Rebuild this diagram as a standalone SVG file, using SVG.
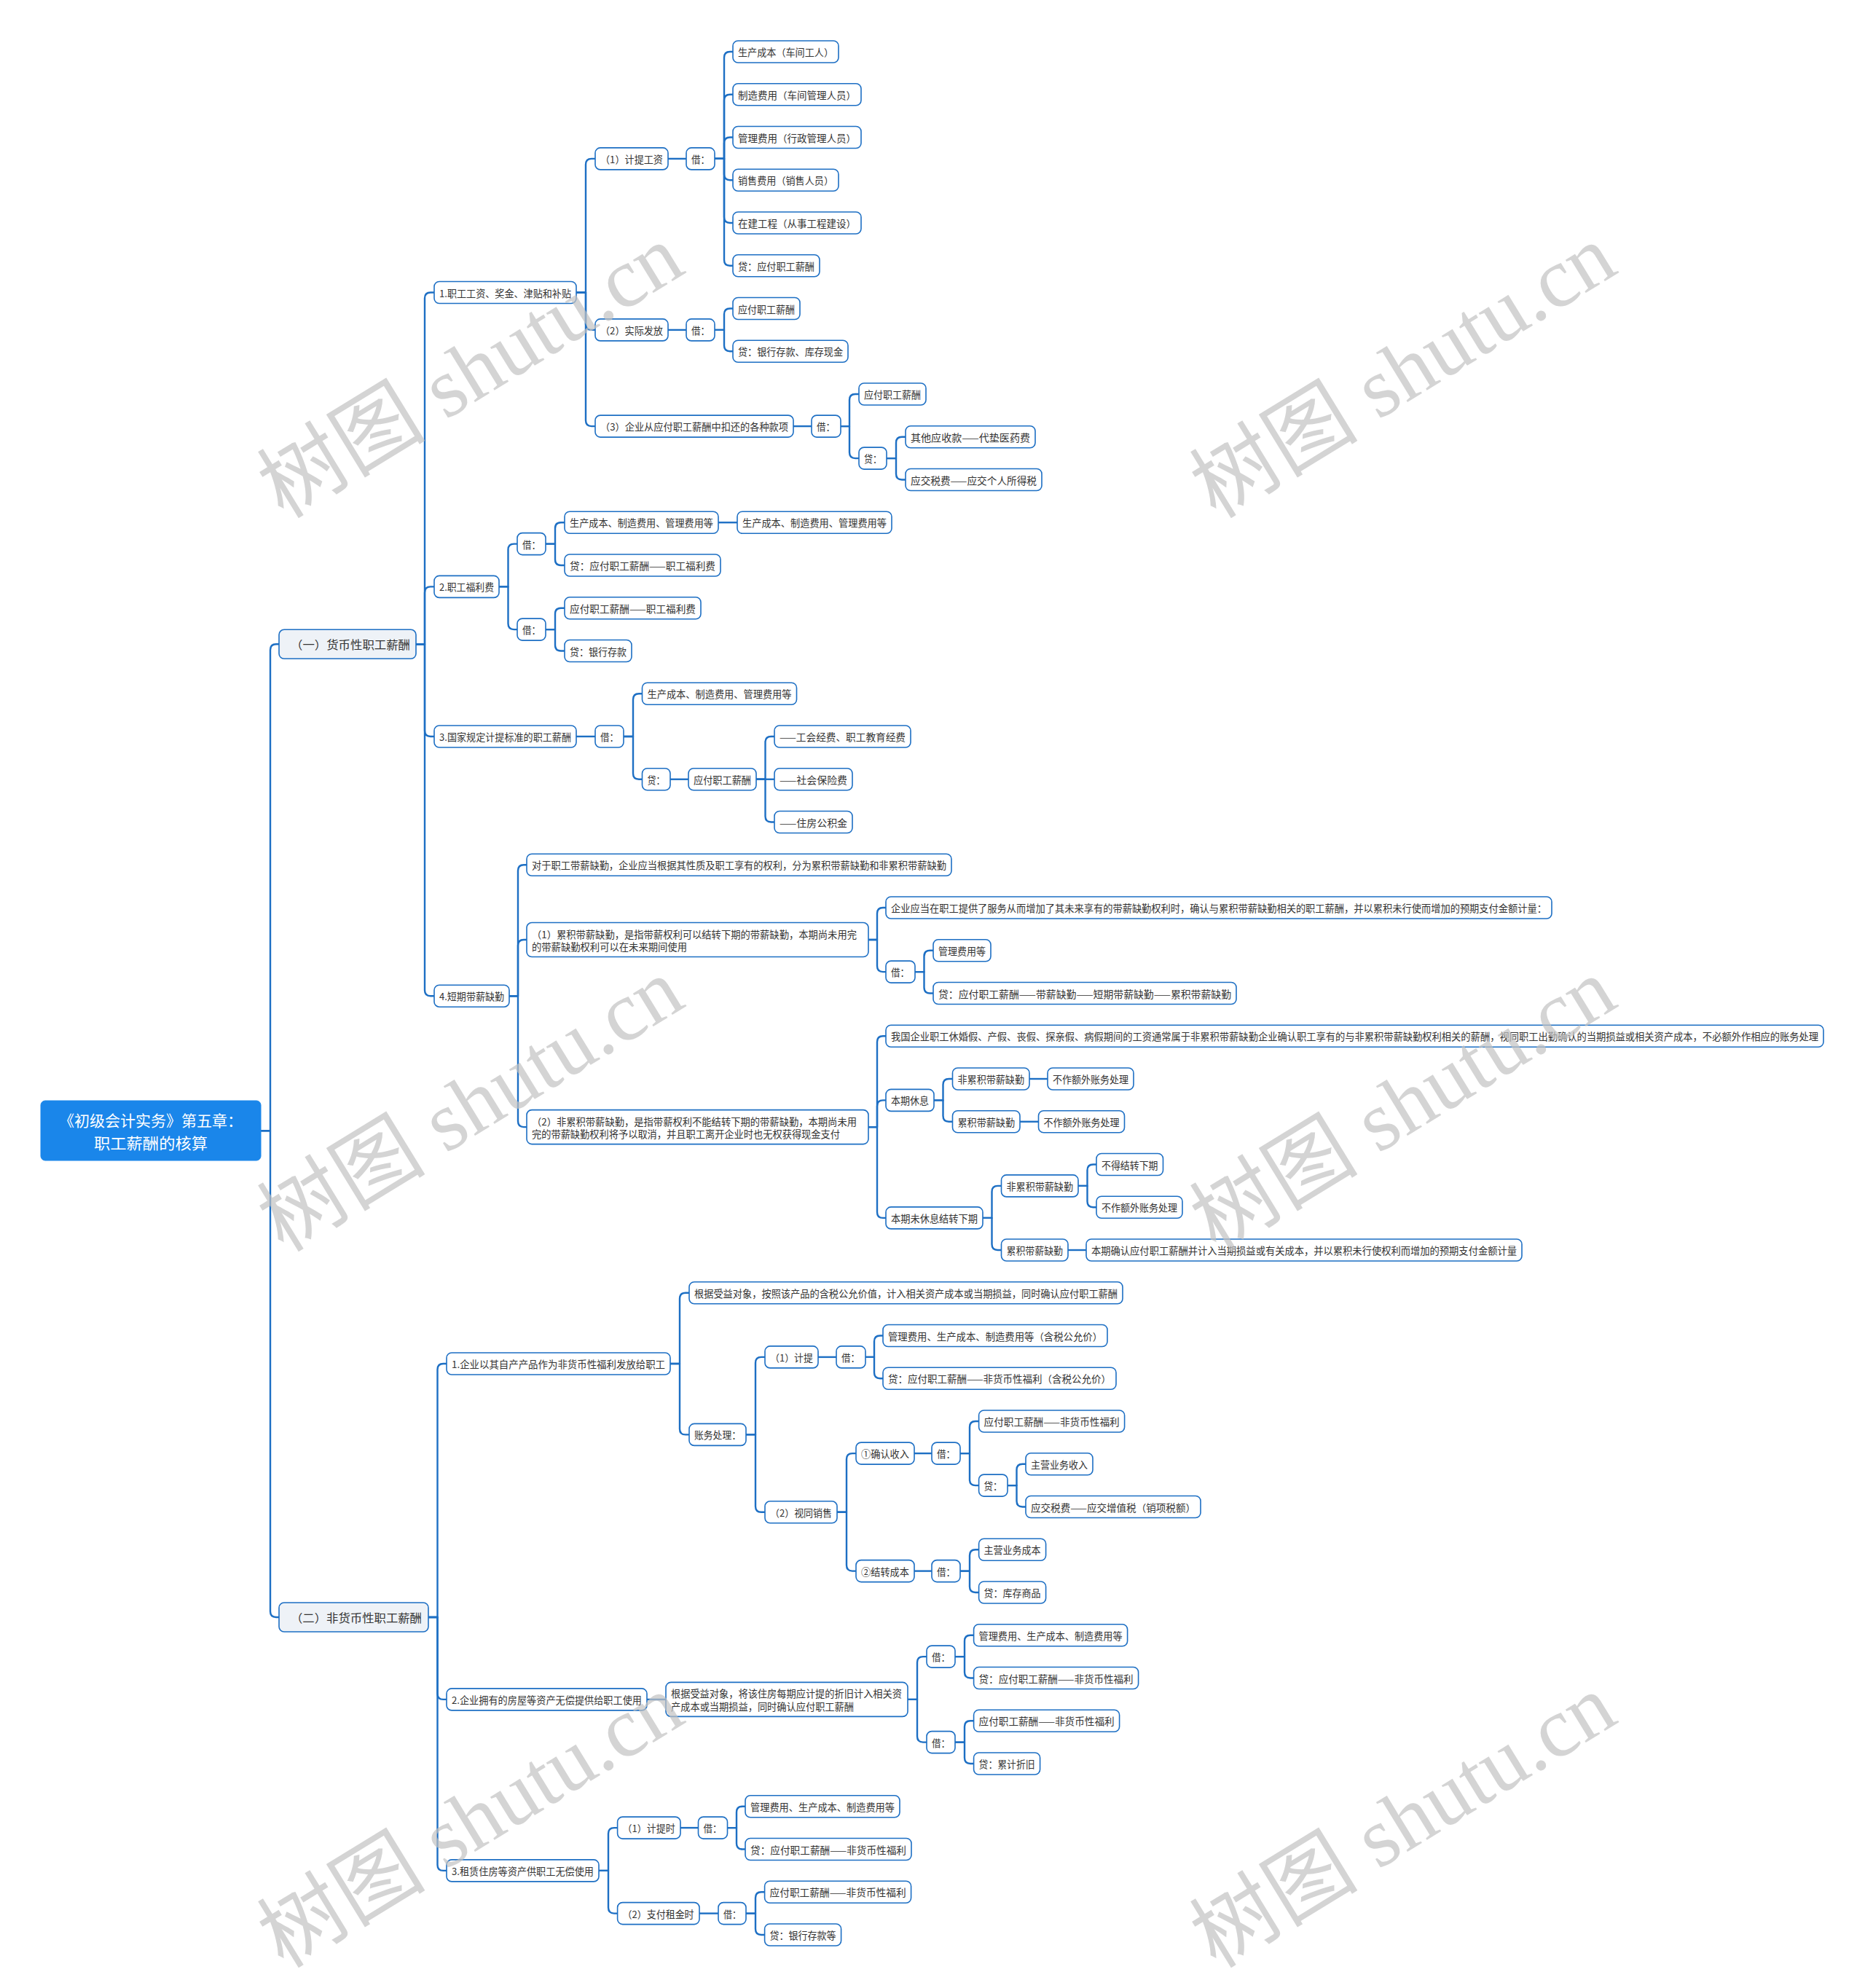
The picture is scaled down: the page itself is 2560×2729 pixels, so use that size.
<svg xmlns="http://www.w3.org/2000/svg" width="2560" height="2729" viewBox="0 0 2560 2729">
<style>
.bg{fill:#ffffff}
.c path{fill:none;stroke:#1d6fc4;stroke-width:2.4;stroke-linejoin:round}
.n rect{fill:#ffffff;stroke:#1d6fc4;stroke-width:1.6}
.n text{font-family:"Noto Sans CJK SC","Noto Sans",sans-serif;font-size:13.5px;fill:#333333;dominant-baseline:central}
.l1 rect{fill:#eef2f7;stroke:#1d6fc4;stroke-width:1.6}
.l1 text{font-family:"Noto Sans CJK SC","Noto Sans",sans-serif;font-size:15.5px;fill:#333333;dominant-baseline:central}
.root rect{fill:#1a86ea;stroke:#1a86ea}
.root text{font-family:"Noto Sans CJK SC","Noto Sans",sans-serif;font-size:21px;fill:#ffffff;dominant-baseline:central;text-anchor:middle}
.wm text{font-family:"Liberation Serif","Noto Sans CJK SC",serif;font-size:116px;fill:#c2c2c2;opacity:0.7;text-anchor:middle;dominant-baseline:central}
</style>
<rect class="bg" x="0" y="0" width="2560" height="2729"/>
<g id="connectors" class="c">
<path d="M358,1552.2 H371 V892.3 Q371,884.3 379,884.3 H383"/>
<path d="M358,1552.2 H371 V2212 Q371,2220 379,2220 H383"/>
<path d="M571,884.3 H583 V409.5 Q583,401.5 591,401.5 H596"/>
<path d="M571,884.3 H583 V813.4 Q583,805.4 591,805.4 H596"/>
<path d="M571,884.3 H583 V1003 Q583,1011 591,1011 H596"/>
<path d="M571,884.3 H583 V1359.2 Q583,1367.2 591,1367.2 H596"/>
<path d="M791,401.5 H804 V225.9 Q804,217.9 812,217.9 H817"/>
<path d="M791,401.5 H804 V444.9 Q804,452.9 812,452.9 H817"/>
<path d="M791,401.5 H804 V577.1 Q804,585.1 812,585.1 H817"/>
<path d="M917,217.9 H942"/>
<path d="M981,217.9 H994 V79 Q994,71 1002,71 H1006"/>
<path d="M981,217.9 H994 V137.75 Q994,129.75 1002,129.75 H1006"/>
<path d="M981,217.9 H994 V196.5 Q994,188.5 1002,188.5 H1006"/>
<path d="M981,217.9 H994 V239.25 Q994,247.25 1002,247.25 H1006"/>
<path d="M981,217.9 H994 V298 Q994,306 1002,306 H1006"/>
<path d="M981,217.9 H994 V356.75 Q994,364.75 1002,364.75 H1006"/>
<path d="M917,452.9 H942"/>
<path d="M981,452.9 H994 V431.5 Q994,423.5 1002,423.5 H1006"/>
<path d="M981,452.9 H994 V474.25 Q994,482.25 1002,482.25 H1006"/>
<path d="M1089,585.1 H1114"/>
<path d="M1154,585.1 H1166 V549 Q1166,541 1174,541 H1179"/>
<path d="M1154,585.1 H1166 V621.1 Q1166,629.1 1174,629.1 H1179"/>
<path d="M1217,629.1 H1230 V607.75 Q1230,599.75 1238,599.75 H1243"/>
<path d="M1217,629.1 H1230 V650.5 Q1230,658.5 1238,658.5 H1243"/>
<path d="M685,805.4 H697.5 V754.6 Q697.5,746.6 705.5,746.6 H710"/>
<path d="M685,805.4 H697.5 V856.1 Q697.5,864.1 705.5,864.1 H710"/>
<path d="M749,746.6 H762 V725.25 Q762,717.25 770,717.25 H775"/>
<path d="M749,746.6 H762 V768 Q762,776 770,776 H775"/>
<path d="M986,717.25 H1012"/>
<path d="M749,864.1 H762 V842.75 Q762,834.75 770,834.75 H775"/>
<path d="M749,864.1 H762 V885.5 Q762,893.5 770,893.5 H775"/>
<path d="M791,1011 H817"/>
<path d="M856,1011 H869 V960.25 Q869,952.25 877,952.25 H881.5"/>
<path d="M856,1011 H869 V1061.75 Q869,1069.75 877,1069.75 H881.5"/>
<path d="M920,1069.75 H945"/>
<path d="M1038,1069.75 H1050.5 V1019 Q1050.5,1011 1058.5,1011 H1063"/>
<path d="M1038,1069.75 H1063"/>
<path d="M1038,1069.75 H1050.5 V1120.5 Q1050.5,1128.5 1058.5,1128.5 H1063"/>
<path d="M699,1367.2 H711 V1195.25 Q711,1187.25 719,1187.25 H723"/>
<path d="M699,1367.2 H711 V1298.06 Q711,1290.06 719,1290.06 H723"/>
<path d="M699,1367.2 H711 V1539.1 Q711,1547.1 719,1547.1 H723"/>
<path d="M1192,1290.06 H1204 V1254 Q1204,1246 1212,1246 H1216"/>
<path d="M1192,1290.06 H1204 V1326.1 Q1204,1334.1 1212,1334.1 H1216"/>
<path d="M1256,1334.1 H1268.5 V1312.75 Q1268.5,1304.75 1276.5,1304.75 H1281"/>
<path d="M1256,1334.1 H1268.5 V1355.5 Q1268.5,1363.5 1276.5,1363.5 H1281"/>
<path d="M1192,1547.1 H1204 V1430.25 Q1204,1422.25 1212,1422.25 H1216"/>
<path d="M1192,1547.1 H1204 V1518.4 Q1204,1510.4 1212,1510.4 H1216"/>
<path d="M1192,1547.1 H1204 V1663.9 Q1204,1671.9 1212,1671.9 H1216"/>
<path d="M1282,1510.4 H1294.5 V1489 Q1294.5,1481 1302.5,1481 H1307.5"/>
<path d="M1282,1510.4 H1294.5 V1531.75 Q1294.5,1539.75 1302.5,1539.75 H1307.5"/>
<path d="M1413,1481 H1438"/>
<path d="M1400,1539.75 H1425.5"/>
<path d="M1349,1671.9 H1361.5 V1635.9 Q1361.5,1627.9 1369.5,1627.9 H1374.5"/>
<path d="M1349,1671.9 H1361.5 V1708 Q1361.5,1716 1369.5,1716 H1374.5"/>
<path d="M1480,1627.9 H1492.5 V1606.5 Q1492.5,1598.5 1500.5,1598.5 H1505"/>
<path d="M1480,1627.9 H1492.5 V1649.25 Q1492.5,1657.25 1500.5,1657.25 H1505"/>
<path d="M1466,1716 H1491"/>
<path d="M588,2220 H600.5 V1880 Q600.5,1872 608.5,1872 H613"/>
<path d="M588,2220 H600.5 V2324.9 Q600.5,2332.9 608.5,2332.9 H613"/>
<path d="M588,2220 H600.5 V2559.9 Q600.5,2567.9 608.5,2567.9 H613"/>
<path d="M920,1872 H933 V1782.75 Q933,1774.75 941,1774.75 H946"/>
<path d="M920,1872 H933 V1961.4 Q933,1969.4 941,1969.4 H946"/>
<path d="M1024,1969.4 H1037 V1870.9 Q1037,1862.9 1045,1862.9 H1050"/>
<path d="M1024,1969.4 H1037 V2067.8 Q1037,2075.8 1045,2075.8 H1050"/>
<path d="M1123,1862.9 H1148"/>
<path d="M1188,1862.9 H1200 V1841.5 Q1200,1833.5 1208,1833.5 H1212"/>
<path d="M1188,1862.9 H1200 V1884.25 Q1200,1892.25 1208,1892.25 H1212"/>
<path d="M1149,2075.8 H1162 V2003.1 Q1162,1995.1 1170,1995.1 H1175"/>
<path d="M1149,2075.8 H1162 V2148.6 Q1162,2156.6 1170,2156.6 H1175"/>
<path d="M1255,1995.1 H1279"/>
<path d="M1318,1995.1 H1331 V1959 Q1331,1951 1339,1951 H1343.6"/>
<path d="M1318,1995.1 H1331 V2031.1 Q1331,2039.1 1339,2039.1 H1343.6"/>
<path d="M1383,2039.1 H1395.5 V2017.75 Q1395.5,2009.75 1403.5,2009.75 H1408"/>
<path d="M1383,2039.1 H1395.5 V2060.5 Q1395.5,2068.5 1403.5,2068.5 H1408"/>
<path d="M1255,2156.6 H1279"/>
<path d="M1318,2156.6 H1331 V2135.25 Q1331,2127.25 1339,2127.25 H1343.6"/>
<path d="M1318,2156.6 H1331 V2178 Q1331,2186 1339,2186 H1343.6"/>
<path d="M888,2332.9 H914"/>
<path d="M1246,2332.9 H1259 V2282.1 Q1259,2274.1 1267,2274.1 H1272"/>
<path d="M1246,2332.9 H1259 V2383.6 Q1259,2391.6 1267,2391.6 H1272"/>
<path d="M1311,2274.1 H1324 V2252.75 Q1324,2244.75 1332,2244.75 H1336.6"/>
<path d="M1311,2274.1 H1324 V2295.5 Q1324,2303.5 1332,2303.5 H1336.6"/>
<path d="M1311,2391.6 H1324 V2370.25 Q1324,2362.25 1332,2362.25 H1336.6"/>
<path d="M1311,2391.6 H1324 V2413 Q1324,2421 1332,2421 H1336.6"/>
<path d="M822,2567.9 H835 V2517.1 Q835,2509.1 843,2509.1 H847.6"/>
<path d="M822,2567.9 H835 V2618.6 Q835,2626.6 843,2626.6 H847.6"/>
<path d="M934,2509.1 H958.5"/>
<path d="M998.5,2509.1 H1011 V2487.75 Q1011,2479.75 1019,2479.75 H1023"/>
<path d="M998.5,2509.1 H1011 V2530.5 Q1011,2538.5 1019,2538.5 H1023"/>
<path d="M960,2626.6 H986"/>
<path d="M1024,2626.6 H1037 V2605.25 Q1037,2597.25 1045,2597.25 H1049.6"/>
<path d="M1024,2626.6 H1037 V2648 Q1037,2656 1045,2656 H1049.6"/>
</g>
<g id="root" class="root"><rect x="56" y="1511" width="302" height="82" rx="6"/><text x="207" y="1537" textLength="252" lengthAdjust="spacingAndGlyphs">《初级会计实务》第五章：</text><text x="207" y="1568" textLength="156" lengthAdjust="spacingAndGlyphs">职工薪酬的核算</text></g>
<g id="l1a" class="l1"><rect x="383" y="864.3" width="188" height="40" rx="7"/><text x="399" y="884.3" textLength="164" lengthAdjust="spacingAndGlyphs">（一）货币性职工薪酬</text></g>
<g id="l1b" class="l1"><rect x="383" y="2200" width="205" height="40" rx="7"/><text x="399" y="2220" textLength="180" lengthAdjust="spacingAndGlyphs">（二）非货币性职工薪酬</text></g>
<g id="n1" class="n"><rect x="596" y="386.5" width="195" height="30" rx="7"/><text x="603" y="401.5" textLength="181" lengthAdjust="spacingAndGlyphs">1.职工工资、奖金、津贴和补贴</text></g>
<g id="n2" class="n"><rect x="817" y="202.9" width="100" height="30" rx="7"/><text x="824" y="217.9" textLength="86" lengthAdjust="spacingAndGlyphs">（1）计提工资</text></g>
<g id="n3" class="n"><rect x="942" y="202.9" width="39" height="30" rx="7"/><text x="949" y="217.9" textLength="25" lengthAdjust="spacingAndGlyphs">借：</text></g>
<g id="n4" class="n"><rect x="1006" y="56" width="145" height="30" rx="7"/><text x="1013" y="71" textLength="131" lengthAdjust="spacingAndGlyphs">生产成本（车间工人）</text></g>
<g id="n5" class="n"><rect x="1006" y="114.75" width="176" height="30" rx="7"/><text x="1013" y="129.75" textLength="162" lengthAdjust="spacingAndGlyphs">制造费用（车间管理人员）</text></g>
<g id="n6" class="n"><rect x="1006" y="173.5" width="176" height="30" rx="7"/><text x="1013" y="188.5" textLength="162" lengthAdjust="spacingAndGlyphs">管理费用（行政管理人员）</text></g>
<g id="n7" class="n"><rect x="1006" y="232.25" width="145" height="30" rx="7"/><text x="1013" y="247.25" textLength="131" lengthAdjust="spacingAndGlyphs">销售费用（销售人员）</text></g>
<g id="n8" class="n"><rect x="1006" y="291" width="176" height="30" rx="7"/><text x="1013" y="306" textLength="162" lengthAdjust="spacingAndGlyphs">在建工程（从事工程建设）</text></g>
<g id="n9" class="n"><rect x="1006" y="349.75" width="119" height="30" rx="7"/><text x="1013" y="364.75" textLength="105" lengthAdjust="spacingAndGlyphs">贷：应付职工薪酬</text></g>
<g id="n10" class="n"><rect x="817" y="437.9" width="100" height="30" rx="7"/><text x="824" y="452.9" textLength="86" lengthAdjust="spacingAndGlyphs">（2）实际发放</text></g>
<g id="n11" class="n"><rect x="942" y="437.9" width="39" height="30" rx="7"/><text x="949" y="452.9" textLength="25" lengthAdjust="spacingAndGlyphs">借：</text></g>
<g id="n12" class="n"><rect x="1006" y="408.5" width="92" height="30" rx="7"/><text x="1013" y="423.5" textLength="78" lengthAdjust="spacingAndGlyphs">应付职工薪酬</text></g>
<g id="n13" class="n"><rect x="1006" y="467.25" width="158" height="30" rx="7"/><text x="1013" y="482.25" textLength="144" lengthAdjust="spacingAndGlyphs">贷：银行存款、库存现金</text></g>
<g id="n14" class="n"><rect x="817" y="570.1" width="272" height="30" rx="7"/><text x="824" y="585.1" textLength="258" lengthAdjust="spacingAndGlyphs">（3）企业从应付职工薪酬中扣还的各种款项</text></g>
<g id="n15" class="n"><rect x="1114" y="570.1" width="40" height="30" rx="7"/><text x="1121" y="585.1" textLength="25" lengthAdjust="spacingAndGlyphs">借：</text></g>
<g id="n16" class="n"><rect x="1179" y="526" width="92" height="30" rx="7"/><text x="1186" y="541" textLength="78" lengthAdjust="spacingAndGlyphs">应付职工薪酬</text></g>
<g id="n17" class="n"><rect x="1179" y="614.1" width="38" height="30" rx="7"/><text x="1186" y="629.1" textLength="24" lengthAdjust="spacingAndGlyphs">贷：</text></g>
<g id="n18" class="n"><rect x="1243" y="584.75" width="178" height="30" rx="7"/><text x="1250" y="599.75" textLength="164" lengthAdjust="spacingAndGlyphs">其他应收款——代垫医药费</text></g>
<g id="n19" class="n"><rect x="1243" y="643.5" width="187" height="30" rx="7"/><text x="1250" y="658.5" textLength="173" lengthAdjust="spacingAndGlyphs">应交税费——应交个人所得税</text></g>
<g id="n20" class="n"><rect x="596" y="790.4" width="89" height="30" rx="7"/><text x="603" y="805.4" textLength="75" lengthAdjust="spacingAndGlyphs">2.职工福利费</text></g>
<g id="n21" class="n"><rect x="710" y="731.6" width="39" height="30" rx="7"/><text x="717" y="746.6" textLength="25" lengthAdjust="spacingAndGlyphs">借：</text></g>
<g id="n22" class="n"><rect x="775" y="702.25" width="211" height="30" rx="7"/><text x="782" y="717.25" textLength="197" lengthAdjust="spacingAndGlyphs">生产成本、制造费用、管理费用等</text></g>
<g id="n23" class="n"><rect x="1012" y="702.25" width="212" height="30" rx="7"/><text x="1019" y="717.25" textLength="198" lengthAdjust="spacingAndGlyphs">生产成本、制造费用、管理费用等</text></g>
<g id="n24" class="n"><rect x="775" y="761" width="214" height="30" rx="7"/><text x="782" y="776" textLength="200" lengthAdjust="spacingAndGlyphs">贷：应付职工薪酬——职工福利费</text></g>
<g id="n25" class="n"><rect x="710" y="849.1" width="39" height="30" rx="7"/><text x="717" y="864.1" textLength="25" lengthAdjust="spacingAndGlyphs">借：</text></g>
<g id="n26" class="n"><rect x="775" y="819.75" width="187" height="30" rx="7"/><text x="782" y="834.75" textLength="173" lengthAdjust="spacingAndGlyphs">应付职工薪酬——职工福利费</text></g>
<g id="n27" class="n"><rect x="775" y="878.5" width="92" height="30" rx="7"/><text x="782" y="893.5" textLength="78" lengthAdjust="spacingAndGlyphs">贷：银行存款</text></g>
<g id="n28" class="n"><rect x="596" y="996" width="195" height="30" rx="7"/><text x="603" y="1011" textLength="181" lengthAdjust="spacingAndGlyphs">3.国家规定计提标准的职工薪酬</text></g>
<g id="n29" class="n"><rect x="817" y="996" width="39" height="30" rx="7"/><text x="824" y="1011" textLength="25" lengthAdjust="spacingAndGlyphs">借：</text></g>
<g id="n30" class="n"><rect x="881.5" y="937.25" width="212" height="30" rx="7"/><text x="888.5" y="952.25" textLength="198" lengthAdjust="spacingAndGlyphs">生产成本、制造费用、管理费用等</text></g>
<g id="n31" class="n"><rect x="881.5" y="1054.75" width="38.5" height="30" rx="7"/><text x="888.5" y="1069.75" textLength="24" lengthAdjust="spacingAndGlyphs">贷：</text></g>
<g id="n32" class="n"><rect x="945" y="1054.75" width="93" height="30" rx="7"/><text x="952" y="1069.75" textLength="79" lengthAdjust="spacingAndGlyphs">应付职工薪酬</text></g>
<g id="n33" class="n"><rect x="1063" y="996" width="187" height="30" rx="7"/><text x="1070" y="1011" textLength="173" lengthAdjust="spacingAndGlyphs">——工会经费、职工教育经费</text></g>
<g id="n34" class="n"><rect x="1063" y="1054.75" width="107" height="30" rx="7"/><text x="1070" y="1069.75" textLength="93" lengthAdjust="spacingAndGlyphs">——社会保险费</text></g>
<g id="n35" class="n"><rect x="1063" y="1113.5" width="107" height="30" rx="7"/><text x="1070" y="1128.5" textLength="93" lengthAdjust="spacingAndGlyphs">——住房公积金</text></g>
<g id="n36" class="n"><rect x="596" y="1352.2" width="103" height="30" rx="7"/><text x="603" y="1367.2" textLength="89" lengthAdjust="spacingAndGlyphs">4.短期带薪缺勤</text></g>
<g id="n37" class="n"><rect x="723" y="1172.25" width="583" height="30" rx="7"/><text x="730" y="1187.25" textLength="569" lengthAdjust="spacingAndGlyphs">对于职工带薪缺勤，企业应当根据其性质及职工享有的权利，分为累积带薪缺勤和非累积带薪缺勤</text></g>
<g id="n38" class="n"><rect x="723" y="1266.56" width="469" height="47" rx="7"/><text x="730" y="1281.56" textLength="446" lengthAdjust="spacingAndGlyphs">（1）累积带薪缺勤，是指带薪权利可以结转下期的带薪缺勤，本期尚未用完</text><text x="730" y="1299.06" textLength="213" lengthAdjust="spacingAndGlyphs">的带薪缺勤权利可以在未来期间使用</text></g>
<g id="n39" class="n"><rect x="1216" y="1231" width="914" height="30" rx="7"/><text x="1223" y="1246" textLength="900" lengthAdjust="spacingAndGlyphs">企业应当在职工提供了服务从而增加了其未来享有的带薪缺勤权利时，确认与累积带薪缺勤相关的职工薪酬，并以累积未行使而增加的预期支付金额计量：</text></g>
<g id="n40" class="n"><rect x="1216" y="1319.1" width="40" height="30" rx="7"/><text x="1223" y="1334.1" textLength="25" lengthAdjust="spacingAndGlyphs">借：</text></g>
<g id="n41" class="n"><rect x="1281" y="1289.75" width="79" height="30" rx="7"/><text x="1288" y="1304.75" textLength="65" lengthAdjust="spacingAndGlyphs">管理费用等</text></g>
<g id="n42" class="n"><rect x="1281" y="1348.5" width="416" height="30" rx="7"/><text x="1288" y="1363.5" textLength="402" lengthAdjust="spacingAndGlyphs">贷：应付职工薪酬——带薪缺勤——短期带薪缺勤——累积带薪缺勤</text></g>
<g id="n43" class="n"><rect x="723" y="1523.6" width="469" height="47" rx="7"/><text x="730" y="1538.6" textLength="446" lengthAdjust="spacingAndGlyphs">（2）非累积带薪缺勤，是指带薪权利不能结转下期的带薪缺勤，本期尚未用</text><text x="730" y="1556.1" textLength="423" lengthAdjust="spacingAndGlyphs">完的带薪缺勤权利将予以取消，并且职工离开企业时也无权获得现金支付</text></g>
<g id="n44" class="n"><rect x="1216" y="1407.25" width="1287" height="30" rx="7"/><text x="1223" y="1422.25" textLength="1273" lengthAdjust="spacingAndGlyphs">我国企业职工休婚假、产假、丧假、探亲假、病假期间的工资通常属于非累积带薪缺勤企业确认职工享有的与非累积带薪缺勤权利相关的薪酬，视同职工出勤确认的当期损益或相关资产成本，不必额外作相应的账务处理</text></g>
<g id="n45" class="n"><rect x="1216" y="1495.4" width="66" height="30" rx="7"/><text x="1223" y="1510.4" textLength="52" lengthAdjust="spacingAndGlyphs">本期休息</text></g>
<g id="n46" class="n"><rect x="1307.5" y="1466" width="105.5" height="30" rx="7"/><text x="1314.5" y="1481" textLength="91.5" lengthAdjust="spacingAndGlyphs">非累积带薪缺勤</text></g>
<g id="n47" class="n"><rect x="1438" y="1466" width="118" height="30" rx="7"/><text x="1445" y="1481" textLength="104" lengthAdjust="spacingAndGlyphs">不作额外账务处理</text></g>
<g id="n48" class="n"><rect x="1307.5" y="1524.75" width="92.5" height="30" rx="7"/><text x="1314.5" y="1539.75" textLength="78.5" lengthAdjust="spacingAndGlyphs">累积带薪缺勤</text></g>
<g id="n49" class="n"><rect x="1425.5" y="1524.75" width="118" height="30" rx="7"/><text x="1432.5" y="1539.75" textLength="104" lengthAdjust="spacingAndGlyphs">不作额外账务处理</text></g>
<g id="n50" class="n"><rect x="1216" y="1656.9" width="133" height="30" rx="7"/><text x="1223" y="1671.9" textLength="119" lengthAdjust="spacingAndGlyphs">本期未休息结转下期</text></g>
<g id="n51" class="n"><rect x="1374.5" y="1612.9" width="105.5" height="30" rx="7"/><text x="1381.5" y="1627.9" textLength="91.5" lengthAdjust="spacingAndGlyphs">非累积带薪缺勤</text></g>
<g id="n52" class="n"><rect x="1505" y="1583.5" width="91.5" height="30" rx="7"/><text x="1512" y="1598.5" textLength="77.5" lengthAdjust="spacingAndGlyphs">不得结转下期</text></g>
<g id="n53" class="n"><rect x="1505" y="1642.25" width="118" height="30" rx="7"/><text x="1512" y="1657.25" textLength="104" lengthAdjust="spacingAndGlyphs">不作额外账务处理</text></g>
<g id="n54" class="n"><rect x="1374.5" y="1701" width="91.5" height="30" rx="7"/><text x="1381.5" y="1716" textLength="77.5" lengthAdjust="spacingAndGlyphs">累积带薪缺勤</text></g>
<g id="n55" class="n"><rect x="1491" y="1701" width="598" height="30" rx="7"/><text x="1498" y="1716" textLength="584" lengthAdjust="spacingAndGlyphs">本期确认应付职工薪酬并计入当期损益或有关成本，并以累积未行使权利而增加的预期支付金额计量</text></g>
<g id="n56" class="n"><rect x="613" y="1857" width="307" height="30" rx="7"/><text x="620" y="1872" textLength="293" lengthAdjust="spacingAndGlyphs">1.企业以其自产产品作为非货币性福利发放给职工</text></g>
<g id="n57" class="n"><rect x="946" y="1759.75" width="595" height="30" rx="7"/><text x="953" y="1774.75" textLength="581" lengthAdjust="spacingAndGlyphs">根据受益对象，按照该产品的含税公允价值，计入相关资产成本或当期损益，同时确认应付职工薪酬</text></g>
<g id="n58" class="n"><rect x="946" y="1954.4" width="78" height="30" rx="7"/><text x="953" y="1969.4" textLength="64" lengthAdjust="spacingAndGlyphs">账务处理：</text></g>
<g id="n59" class="n"><rect x="1050" y="1847.9" width="73" height="30" rx="7"/><text x="1057" y="1862.9" textLength="59" lengthAdjust="spacingAndGlyphs">（1）计提</text></g>
<g id="n60" class="n"><rect x="1148" y="1847.9" width="40" height="30" rx="7"/><text x="1155" y="1862.9" textLength="25" lengthAdjust="spacingAndGlyphs">借：</text></g>
<g id="n61" class="n"><rect x="1212" y="1818.5" width="308" height="30" rx="7"/><text x="1219" y="1833.5" textLength="294" lengthAdjust="spacingAndGlyphs">管理费用、生产成本、制造费用等（含税公允价）</text></g>
<g id="n62" class="n"><rect x="1212" y="1877.25" width="320" height="30" rx="7"/><text x="1219" y="1892.25" textLength="306" lengthAdjust="spacingAndGlyphs">贷：应付职工薪酬——非货币性福利（含税公允价）</text></g>
<g id="n63" class="n"><rect x="1050" y="2060.8" width="99" height="30" rx="7"/><text x="1057" y="2075.8" textLength="85" lengthAdjust="spacingAndGlyphs">（2）视同销售</text></g>
<g id="n64" class="n"><rect x="1175" y="1980.1" width="80" height="30" rx="7"/><text x="1182" y="1995.1" textLength="66" lengthAdjust="spacingAndGlyphs">①确认收入</text></g>
<g id="n65" class="n"><rect x="1279" y="1980.1" width="39" height="30" rx="7"/><text x="1286" y="1995.1" textLength="25" lengthAdjust="spacingAndGlyphs">借：</text></g>
<g id="n66" class="n"><rect x="1343.6" y="1936" width="200" height="30" rx="7"/><text x="1350.6" y="1951" textLength="186" lengthAdjust="spacingAndGlyphs">应付职工薪酬——非货币性福利</text></g>
<g id="n67" class="n"><rect x="1343.6" y="2024.1" width="39.4" height="30" rx="7"/><text x="1350.6" y="2039.1" textLength="25" lengthAdjust="spacingAndGlyphs">贷：</text></g>
<g id="n68" class="n"><rect x="1408" y="1994.75" width="92" height="30" rx="7"/><text x="1415" y="2009.75" textLength="78" lengthAdjust="spacingAndGlyphs">主营业务收入</text></g>
<g id="n69" class="n"><rect x="1408" y="2053.5" width="240" height="30" rx="7"/><text x="1415" y="2068.5" textLength="226" lengthAdjust="spacingAndGlyphs">应交税费——应交增值税（销项税额）</text></g>
<g id="n70" class="n"><rect x="1175" y="2141.6" width="80" height="30" rx="7"/><text x="1182" y="2156.6" textLength="66" lengthAdjust="spacingAndGlyphs">②结转成本</text></g>
<g id="n71" class="n"><rect x="1279" y="2141.6" width="39" height="30" rx="7"/><text x="1286" y="2156.6" textLength="25" lengthAdjust="spacingAndGlyphs">借：</text></g>
<g id="n72" class="n"><rect x="1343.6" y="2112.25" width="92" height="30" rx="7"/><text x="1350.6" y="2127.25" textLength="78" lengthAdjust="spacingAndGlyphs">主营业务成本</text></g>
<g id="n73" class="n"><rect x="1343.6" y="2171" width="92" height="30" rx="7"/><text x="1350.6" y="2186" textLength="78" lengthAdjust="spacingAndGlyphs">贷：库存商品</text></g>
<g id="n74" class="n"><rect x="613" y="2317.9" width="275" height="30" rx="7"/><text x="620" y="2332.9" textLength="261" lengthAdjust="spacingAndGlyphs">2.企业拥有的房屋等资产无偿提供给职工使用</text></g>
<g id="n75" class="n"><rect x="914" y="2309.4" width="332" height="47" rx="7"/><text x="921" y="2324.4" textLength="317" lengthAdjust="spacingAndGlyphs">根据受益对象，将该住房每期应计提的折旧计入相关资</text><text x="921" y="2341.9" textLength="251" lengthAdjust="spacingAndGlyphs">产成本或当期损益，同时确认应付职工薪酬</text></g>
<g id="n76" class="n"><rect x="1272" y="2259.1" width="39" height="30" rx="7"/><text x="1279" y="2274.1" textLength="25" lengthAdjust="spacingAndGlyphs">借：</text></g>
<g id="n77" class="n"><rect x="1336.6" y="2229.75" width="211" height="30" rx="7"/><text x="1343.6" y="2244.75" textLength="197" lengthAdjust="spacingAndGlyphs">管理费用、生产成本、制造费用等</text></g>
<g id="n78" class="n"><rect x="1336.6" y="2288.5" width="226" height="30" rx="7"/><text x="1343.6" y="2303.5" textLength="212" lengthAdjust="spacingAndGlyphs">贷：应付职工薪酬——非货币性福利</text></g>
<g id="n79" class="n"><rect x="1272" y="2376.6" width="39" height="30" rx="7"/><text x="1279" y="2391.6" textLength="25" lengthAdjust="spacingAndGlyphs">借：</text></g>
<g id="n80" class="n"><rect x="1336.6" y="2347.25" width="200" height="30" rx="7"/><text x="1343.6" y="2362.25" textLength="186" lengthAdjust="spacingAndGlyphs">应付职工薪酬——非货币性福利</text></g>
<g id="n81" class="n"><rect x="1336.6" y="2406" width="91" height="30" rx="7"/><text x="1343.6" y="2421" textLength="77" lengthAdjust="spacingAndGlyphs">贷：累计折旧</text></g>
<g id="n82" class="n"><rect x="613" y="2552.9" width="209" height="30" rx="7"/><text x="620" y="2567.9" textLength="195" lengthAdjust="spacingAndGlyphs">3.租赁住房等资产供职工无偿使用</text></g>
<g id="n83" class="n"><rect x="847.6" y="2494.1" width="86.4" height="30" rx="7"/><text x="854.6" y="2509.1" textLength="72" lengthAdjust="spacingAndGlyphs">（1）计提时</text></g>
<g id="n84" class="n"><rect x="958.5" y="2494.1" width="40" height="30" rx="7"/><text x="965.5" y="2509.1" textLength="25" lengthAdjust="spacingAndGlyphs">借：</text></g>
<g id="n85" class="n"><rect x="1023" y="2464.75" width="212" height="30" rx="7"/><text x="1030" y="2479.75" textLength="198" lengthAdjust="spacingAndGlyphs">管理费用、生产成本、制造费用等</text></g>
<g id="n86" class="n"><rect x="1023" y="2523.5" width="228" height="30" rx="7"/><text x="1030" y="2538.5" textLength="214" lengthAdjust="spacingAndGlyphs">贷：应付职工薪酬——非货币性福利</text></g>
<g id="n87" class="n"><rect x="847.6" y="2611.6" width="112.4" height="30" rx="7"/><text x="854.6" y="2626.6" textLength="98" lengthAdjust="spacingAndGlyphs">（2）支付租金时</text></g>
<g id="n88" class="n"><rect x="986" y="2611.6" width="38" height="30" rx="7"/><text x="993" y="2626.6" textLength="24" lengthAdjust="spacingAndGlyphs">借：</text></g>
<g id="n89" class="n"><rect x="1049.6" y="2582.25" width="201" height="30" rx="7"/><text x="1056.6" y="2597.25" textLength="187" lengthAdjust="spacingAndGlyphs">应付职工薪酬——非货币性福利</text></g>
<g id="n90" class="n"><rect x="1049.6" y="2641" width="105" height="30" rx="7"/><text x="1056.6" y="2656" textLength="91" lengthAdjust="spacingAndGlyphs">贷：银行存款等</text></g>
<g id="watermark" class="wm">
<text x="646" y="510" transform="rotate(-31.5 646 510)">树图 shutu.cn</text>
<text x="1926" y="510" transform="rotate(-31.5 1926 510)">树图 shutu.cn</text>
<text x="646" y="1517" transform="rotate(-31.5 646 1517)">树图 shutu.cn</text>
<text x="1926" y="1517" transform="rotate(-31.5 1926 1517)">树图 shutu.cn</text>
<text x="646" y="2500" transform="rotate(-31.5 646 2500)">树图 shutu.cn</text>
<text x="1926" y="2500" transform="rotate(-31.5 1926 2500)">树图 shutu.cn</text>
</g>
</svg>
